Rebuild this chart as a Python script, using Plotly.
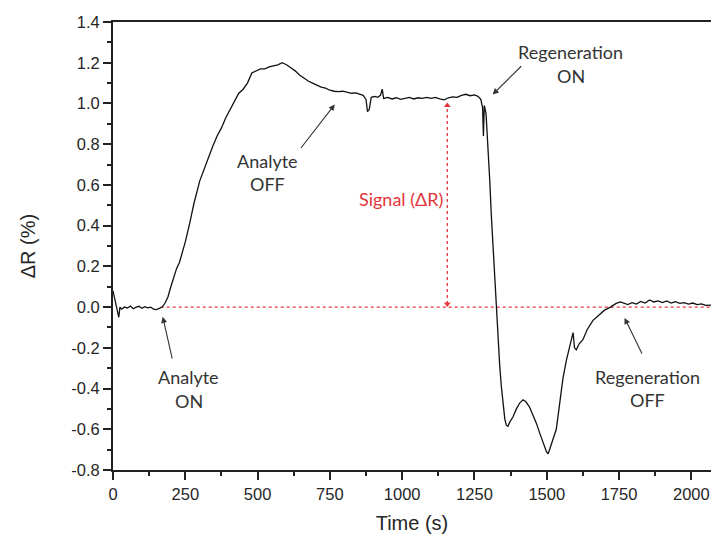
import plotly.graph_objects as go

# ---- data ----
time_s = [0, 5, 10, 15, 20, 24, 30, 40, 50, 60, 70, 80, 90, 100, 110, 120, 130, 140, 150, 160,
          170, 180, 190, 200, 210, 220, 230, 240, 250, 265, 280, 300, 315, 330, 345, 360, 375,
          390, 405, 420, 435, 450, 465, 480, 495, 510, 525, 540, 555, 570, 585, 600, 615, 630,
          645, 660, 675, 690, 705, 720, 735, 750, 765, 780, 795, 810, 825, 840, 855, 865, 875,
          880, 886, 893, 905, 915, 925, 931, 936, 950, 965, 980, 995, 1010, 1025, 1040, 1055,
          1070, 1085, 1100, 1115, 1130, 1145, 1160, 1175, 1190, 1205, 1220, 1235, 1250, 1262,
          1272, 1278, 1281, 1284, 1290, 1297, 1303, 1308, 1314, 1320, 1326, 1331, 1337, 1343,
          1349, 1355, 1360, 1366, 1372, 1383, 1395, 1407, 1418, 1428, 1440, 1452, 1464, 1476,
          1488, 1499, 1505, 1512, 1522, 1533, 1545, 1556, 1568, 1579, 1585, 1591, 1596, 1602,
          1612, 1625, 1640, 1660, 1680, 1700, 1720, 1740, 1755, 1765, 1780, 1795, 1810, 1825,
          1840, 1856, 1870, 1885, 1900, 1915, 1930, 1945, 1960, 1975, 1990, 2005, 2020, 2035,
          2050, 2068]
delta_r = [0.08, 0.05, 0.02, -0.01, -0.05, 0.0, -0.01, 0.0, -0.005, 0.005, -0.008, 0.0, 0.004,
           -0.006, 0.002, -0.004, 0.0, -0.01, -0.012, -0.006, 0.0, 0.02, 0.05, 0.1, 0.15, 0.19,
           0.22, 0.27, 0.32, 0.41, 0.51, 0.62, 0.68, 0.74, 0.79, 0.84, 0.88, 0.93, 0.97, 1.01,
           1.05, 1.07, 1.10, 1.15, 1.16, 1.17, 1.17, 1.18, 1.185, 1.19, 1.20, 1.19, 1.175, 1.16,
           1.14, 1.125, 1.11, 1.10, 1.09, 1.08, 1.075, 1.065, 1.06, 1.058, 1.06, 1.055, 1.05,
           1.052, 1.045, 1.04, 1.02, 0.96, 0.97, 1.03, 1.035, 1.03, 1.04, 1.07, 1.025, 1.03,
           1.022, 1.028, 1.02, 1.025, 1.03, 1.022, 1.028, 1.025, 1.03, 1.025, 1.03, 1.022,
           1.018, 1.028, 1.032, 1.03, 1.04, 1.045, 1.038, 1.042, 1.035, 1.02, 0.98, 0.84, 0.99,
           0.95, 0.79, 0.62, 0.46, 0.30, 0.13, -0.02, -0.15, -0.28, -0.39, -0.49, -0.55, -0.58,
           -0.585, -0.565, -0.54, -0.5, -0.47, -0.455, -0.465, -0.49, -0.53, -0.57, -0.62,
           -0.67, -0.71, -0.72, -0.69, -0.65, -0.6, -0.47, -0.35, -0.26, -0.19, -0.15, -0.125,
           -0.2, -0.21, -0.18, -0.16, -0.11, -0.065, -0.04, -0.015, 0.0, 0.018, 0.025, 0.02,
           0.012, 0.022, 0.015, 0.028, 0.02, 0.035, 0.025, 0.03, 0.022, 0.03, 0.02, 0.027,
           0.018, 0.022, 0.015, 0.02, 0.012, 0.016, 0.008, 0.01]

x_ticks = [0, 250, 500, 750, 1000, 1250, 1500, 1750, 2000]
y_ticks = [-0.8, -0.6, -0.4, -0.2, 0.0, 0.2, 0.4, 0.6, 0.8, 1.0, 1.2, 1.4]
y_tick_labels = ["-0.8", "-0.6", "-0.4", "-0.2", "0.0", "0.2", "0.4", "0.6", "0.8", "1.0", "1.2", "1.4"]

baseline_x = [165, 2068]
baseline_y = [0.0, 0.0]
signal_x = 1156
signal_y = [0.015, 0.99]

# labels: (lines, x, [y per line], arrow head (x, y), arrow tail (x, y))
labels = [
    (["Analyte", "ON"], 262, [-0.343, -0.461], (172, -0.048), (206, -0.26)),
    (["Analyte", "OFF"], 535, [0.716, 0.606], (767, 0.995), (646, 0.774)),
    (["Regeneration", "ON"], 1583, [1.251, 1.133], (1313, 1.044), (1417, 1.19)),
    (["Regeneration", "OFF"], 1849, [-0.341, -0.456], (1769, -0.053), (1832, -0.236)),
]
signal_label = ("Signal (ΔR)", 995, 0.533)

RED = "#e3343a"
TXT = "#262626"
LBL = "#333333"

fig = go.Figure()

# red dotted baseline
fig.add_trace(go.Scatter(x=baseline_x, y=baseline_y, mode="lines",
                         line=dict(color=RED, width=1.3, dash="dot"),
                         hoverinfo="skip", showlegend=False))
# red dotted signal arrow
fig.add_trace(go.Scatter(x=[signal_x, signal_x], y=signal_y, mode="lines",
                         line=dict(color=RED, width=1.3, dash="dot"),
                         hoverinfo="skip", showlegend=False))
fig.add_trace(go.Scatter(x=[signal_x, signal_x], y=signal_y, mode="markers",
                         marker=dict(symbol=["triangle-down", "triangle-up"], size=6, color=RED),
                         hoverinfo="skip", showlegend=False))

# main trace
fig.add_trace(go.Scatter(x=time_s, y=delta_r, mode="lines",
                         line=dict(color="#111111", width=1.3),
                         showlegend=False))

annotations = []
for lines, lx, lys, head, tail in labels:
    for t, ly in zip(lines, lys):
        annotations.append(dict(x=lx, y=ly, xref="x", yref="y", text=t, showarrow=False,
                                xanchor="center", yanchor="middle",
                                font=dict(family="Lato, Open Sans, sans-serif", size=18, color=LBL)))
    annotations.append(dict(x=head[0], y=head[1], ax=tail[0], ay=tail[1], xref="x", yref="y",
                            axref="x", ayref="y", text="", showarrow=True, arrowhead=2,
                            arrowsize=1.1, arrowwidth=1.1, arrowcolor="#333333"))
annotations.append(dict(x=signal_label[1], y=signal_label[2], xref="x", yref="y",
                        text=signal_label[0], showarrow=False, xanchor="center", yanchor="middle",
                        font=dict(family="Lato, Open Sans, sans-serif", size=18, color=RED)))

fig.update_layout(
    width=712, height=538,
    margin=dict(l=113, r=1, t=22, b=68),
    paper_bgcolor="white", plot_bgcolor="white",
    annotations=annotations,
    xaxis=dict(range=[0, 2068], tickvals=x_ticks, ticks="outside", ticklen=8, tickwidth=1.5,
               tickcolor="#222", showline=True, linecolor="#222", linewidth=2, mirror=True,
               showgrid=False, zeroline=False,
               tickfont=dict(family="Liberation Sans, Arial", size=16.5, color=TXT),
               minor=dict(dtick=125, tick0=0, ticks="outside", ticklen=4, tickwidth=1.5, tickcolor="#222"),
               title=dict(text="Time (s)", font=dict(family="Liberation Sans, Arial", size=20, color=TXT),
                          standoff=14)),
    yaxis=dict(range=[-0.8, 1.4], tickvals=y_ticks, ticktext=y_tick_labels, ticks="outside",
               ticklen=8, tickwidth=1.5, tickcolor="#222", showline=True, linecolor="#222",
               linewidth=2, showgrid=False, zeroline=False,
               tickfont=dict(family="Liberation Sans, Arial", size=16.5, color=TXT),
               minor=dict(dtick=0.1, tick0=0, ticks="outside", ticklen=4, tickwidth=1.5, tickcolor="#222"),
               title=dict(text="ΔR (%)", font=dict(family="Liberation Sans, Arial", size=20, color=TXT),
                          standoff=30)),
)

fig.write_html("out.html")
